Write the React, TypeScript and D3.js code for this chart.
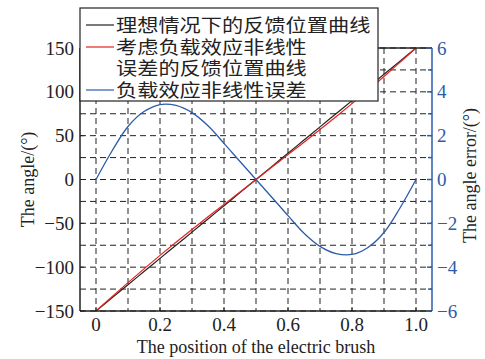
import React from 'react';
import * as d3 from 'd3';

const W = 485;
const H = 359;
const margin = { top: 48, right: 53, bottom: 48, left: 80 };

// brush position and the load-effect error (deg)
const positions = [0, 0.05, 0.1, 0.15, 0.2, 0.25, 0.3, 0.35, 0.4, 0.45, 0.5,
  0.55, 0.6, 0.65, 0.7, 0.75, 0.8, 0.85, 0.9, 0.95, 1.0];
const errors = [0, 1.3, 2.42, 3.1, 3.42, 3.38, 3.05, 2.45, 1.65, 0.82, 0,
  -0.82, -1.65, -2.45, -3.05, -3.38, -3.42, -3.1, -2.42, -1.3, 0];
const idealAngles = [-150, -135, -120, -105, -90, -75, -60, -45, -30, -15, 0,
  15, 30, 45, 60, 75, 90, 105, 120, 135, 150];

const xTicks = [0, 0.2, 0.4, 0.6, 0.8, 1.0];
const xGrid = [0, 0.1, 0.2, 0.3, 0.4, 0.5, 0.6, 0.7, 0.8, 0.9, 1.0];
const yTicks = [-150, -100, -50, 0, 50, 100, 150];
const yRightTicks = [-6, -4, -2, 0, 2, 4, 6];
const yRightMinor = [-5, -3, -1, 1, 3, 5];

const legendLabels = [
  ['理想情况下的反馈位置曲线'],
  ['考虑负载效应非线性', '误差的反馈位置曲线'],
  ['负载效应非线性误差'],
];

const BLUE = '#2d5ca8';
const RED = '#e8231f';
const serif = '"Liberation Serif", "DejaVu Serif", serif';
const cjk = '"Noto Sans CJK SC", sans-serif';

export default function App() {
  const x = d3.scaleLinear().domain([-0.05, 1.05]).range([margin.left, W - margin.right]);
  const y = d3.scaleLinear().domain([-150, 150]).range([H - margin.bottom, margin.top]);
  const y2 = d3.scaleLinear().domain([-6, 6]).range([H - margin.bottom, margin.top]);

  const lineGen = d3.line<[number, number]>().curve(d3.curveCatmullRom);
  const ideal = lineGen(positions.map((p, i) => [x(p), y(idealAngles[i])]));
  const actual = lineGen(positions.map((p, i) => [x(p), y(idealAngles[i] + errors[i])]));
  const err = lineGen(positions.map((p, i) => [x(p), y2(errors[i])]));

  const x0 = margin.left;
  const x1 = W - margin.right;
  const yTop = margin.top;
  const yBot = H - margin.bottom;
  const gridY = d3.range(-6, 7).map((v) => y2(v));

  const legendRows = [
    { color: '#222', y: 25, lines: legendLabels[0] },
    { color: RED, y: 47, lines: legendLabels[1] },
    { color: BLUE, y: 90, lines: legendLabels[2] },
  ];

  return (
    <svg width={W} height={H} style={{ position: 'absolute', left: 0, top: 0, background: 'white' }}>
      {/* grid */}
      <g stroke="#222" strokeWidth={1} strokeDasharray="6,4" fill="none">
        {xGrid.map((v) => (
          <line key={'gx' + v} x1={x(v)} x2={x(v)} y1={yTop} y2={yBot} />
        ))}
        {gridY.map((v, i) => (
          <line key={'gy' + i} x1={x0} x2={x1} y1={v} y2={v} />
        ))}
      </g>

      <path d={ideal ?? ''} fill="none" stroke="#222" strokeWidth={1.2} />
      <path d={actual ?? ''} fill="none" stroke={RED} strokeWidth={1.2} />
      <path d={err ?? ''} fill="none" stroke={BLUE} strokeWidth={1.3} />

      {/* frame */}
      <line x1={x0} x2={x0} y1={yTop} y2={yBot} stroke="#222" strokeWidth={1.5} />
      <line x1={x0} x2={x1} y1={yBot} y2={yBot} stroke="#222" strokeWidth={1.5} />
      <line x1={x0} x2={x1} y1={yTop} y2={yTop} stroke="#222" strokeWidth={1.5} />
      <line x1={x1} x2={x1} y1={yTop} y2={yBot} stroke={BLUE} strokeWidth={1.5} />

      {/* left axis */}
      {yTicks.map((v) => (
        <g key={'yl' + v}>
          <line x1={x0} x2={x0 + 4} y1={y(v)} y2={y(v)} stroke="#222" />
          <text x={x0 - 6} y={y(v)} dy="0.35em" textAnchor="end" fontFamily={serif} fontSize={19} fill="#222">
            {v < 0 ? '\u2212' + Math.abs(v) : v}
          </text>
        </g>
      ))}

      {/* bottom axis */}
      {xTicks.map((v) => (
        <g key={'xb' + v}>
          <line x1={x(v)} x2={x(v)} y1={yBot} y2={yBot - 4} stroke="#222" />
          <text x={x(v)} y={yBot + 20} textAnchor="middle" fontFamily={serif} fontSize={19} fill="#222">
            {v === 0 ? '0' : v.toFixed(1)}
          </text>
        </g>
      ))}

      {/* right axis */}
      {yRightTicks.map((v) => (
        <g key={'yr' + v}>
          <line x1={x1} x2={x1 - 5} y1={y2(v)} y2={y2(v)} stroke={BLUE} strokeWidth={1.5} />
          <text x={x1 + 5} y={y2(v)} dy="0.35em" textAnchor="start" fontFamily={serif} fontSize={19} fill={BLUE}>
            {v < 0 ? '\u2212' + Math.abs(v) : v}
          </text>
        </g>
      ))}
      {yRightMinor.map((v) => (
        <line key={'ym' + v} x1={x1} x2={x1 - 4} y1={y2(v)} y2={y2(v)} stroke={BLUE} strokeWidth={1.5} />
      ))}

      {/* axis titles */}
      <text x={(x0 + x1) / 2} y={353} textAnchor="middle" fontFamily={serif} fontSize={18} fill="#222">
        The position of the electric brush
      </text>
      <text transform={`translate(34, ${(yTop + yBot) / 2}) rotate(-90)`} textAnchor="middle"
        fontFamily={serif} fontSize={18} fill="#222">
        The angle/(°)
      </text>
      <text transform={`translate(476, ${(yTop + yBot) / 2 - 4}) rotate(-90)`} textAnchor="middle"
        fontFamily={serif} fontSize={18} fill="#222">
        The angle error/(°)
      </text>

      {/* legend */}
      <rect x={80} y={8} width={298} height={93} fill="white" stroke="#222" strokeWidth={1.2} />
      {legendRows.map((r, i) => (
        <g key={'lg' + i}>
          <line x1={86} x2={114} y1={r.y} y2={r.y} stroke={r.color} strokeWidth={1.2} />
          {r.lines.map((t, j) => (
            <text key={j} x={116} y={r.y + j * 21.5} dy="0.36em" fontFamily={cjk} fontSize={18.5} fill="#222"
              textLength={t.length * 21.2} lengthAdjust="spacingAndGlyphs">
              {t}
            </text>
          ))}
        </g>
      ))}
    </svg>
  );
}
